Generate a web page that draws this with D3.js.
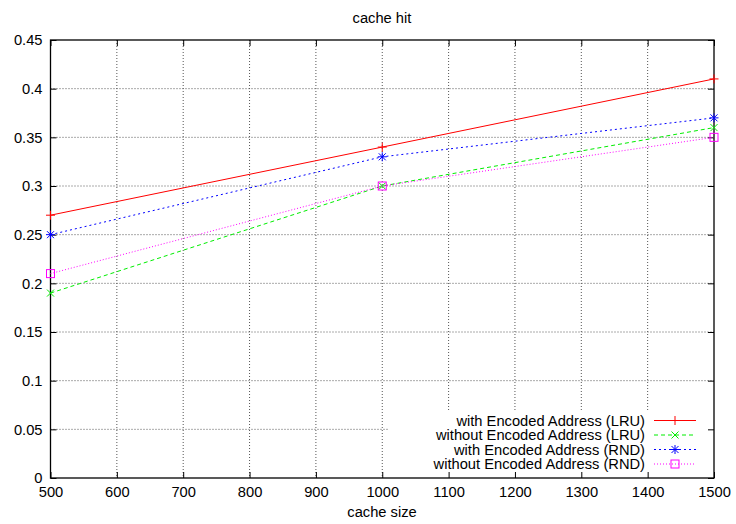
<!DOCTYPE html>
<html>
<head>
<meta charset="utf-8">
<script src="https://cdn.jsdelivr.net/npm/d3@7"></script>
<style>
  body { margin: 0; background: #fff; }
  text { font-family: "Liberation Sans", Arial, sans-serif; }
</style>
</head>
<body>
<div id="chart"></div>
<script>
// chart data
var cacheSizes = [500, 1000, 1500];
var withLRU = [0.27, 0.34, 0.41];
var withoutLRU = [0.19, 0.30, 0.36];
var withRND = [0.25, 0.33, 0.37];
var withoutRND = [0.21, 0.30, 0.35];
var seriesNames = ["with Encoded Address (LRU)", "without Encoded Address (LRU)",
                   "with Encoded Address (RND)", "without Encoded Address (RND)"];
var xTicks = [500, 600, 700, 800, 900, 1000, 1100, 1200, 1300, 1400, 1500];
var yTicks = [0, 0.05, 0.1, 0.15, 0.2, 0.25, 0.3, 0.35, 0.4, 0.45];

var W = 736, H = 524;
var margin = {top: 40, right: 22, bottom: 46, left: 50.5};
var width = W - margin.left - margin.right,
    height = H - margin.top - margin.bottom;
var fs = 14.7;

var svg = d3.select("#chart").append("svg")
    .attr("width", W).attr("height", H);
var g = svg.append("g")
    .attr("transform", "translate(" + margin.left + "," + margin.top + ")");

var x = d3.scaleLinear().domain([500, 1500]).range([0, width]);
var y = d3.scaleLinear().domain([0, 0.45]).range([height, 0]);

// grid
g.selectAll(".gx").data(xTicks.slice(1, -1)).join("line")
    .attr("x1", d => x(d)).attr("x2", d => x(d))
    .attr("y1", 0).attr("y2", height)
    .attr("stroke", "#555").attr("stroke-width", 1).attr("stroke-dasharray", "1,2");
g.selectAll(".gy").data(yTicks.slice(1, -1)).join("line")
    .attr("x1", 0).attr("x2", width)
    .attr("y1", d => y(d)).attr("y2", d => y(d))
    .attr("stroke", "#555").attr("stroke-width", 1).attr("stroke-dasharray", "1,2");

// key background hides grid
g.append("rect")
    .attr("x", x(1010)).attr("y", y(0.068))
    .attr("width", width - x(1010)).attr("height", height - y(0.068))
    .attr("fill", "#fff");

// axes with mirrored inward ticks
var axB = g.append("g").attr("transform", "translate(0," + height + ")")
    .call(d3.axisBottom(x).tickValues(xTicks).tickSize(-6).tickPadding(9).tickFormat(d3.format("d")));
var axT = g.append("g")
    .call(d3.axisTop(x).tickValues(xTicks).tickSize(-6).tickFormat(""));
var axL = g.append("g")
    .call(d3.axisLeft(y).tickValues(yTicks).tickSize(-6).tickPadding(8).tickFormat(d => d3.format("")(+d.toFixed(2))));
var axR = g.append("g").attr("transform", "translate(" + width + ",0)")
    .call(d3.axisRight(y).tickValues(yTicks).tickSize(-6).tickFormat(""));
[axB, axT, axL, axR].forEach(a => {
  a.selectAll("path").remove();
  a.selectAll("line").attr("stroke", "#000");
  a.selectAll("text").attr("font-size", fs).attr("fill", "#000")
    .style("font-family", "'Liberation Sans', Arial, sans-serif");
});

g.append("rect").attr("width", width).attr("height", height)
    .attr("fill", "none").attr("stroke", "#000").attr("stroke-width", 1.3);

var series = [
  {name: seriesNames[0], vals: withLRU, color: "#ff0000", dash: null, marker: "plus"},
  {name: seriesNames[1], vals: withoutLRU, color: "#00ee00", dash: "4,3", marker: "cross"},
  {name: seriesNames[2], vals: withRND, color: "#0000ff", dash: "2,3", marker: "star"},
  {name: seriesNames[3], vals: withoutRND, color: "#ff00ff", dash: "1,2", marker: "square"}
];

function drawMarker(sel, type, color) {
  var s = 4.5;
  if (type === "plus" || type === "star") {
    sel.append("path").attr("d", `M${-s},0H${s}M0,${-s}V${s}`).attr("stroke", color).attr("fill", "none");
  }
  if (type === "cross" || type === "star") {
    var c = 3.5;
    sel.append("path").attr("d", `M${-c},${-c}L${c},${c}M${-c},${c}L${c},${-c}`).attr("stroke", color).attr("fill", "none");
  }
  if (type === "square") {
    sel.append("rect").attr("x", -4).attr("y", -4).attr("width", 8).attr("height", 8)
      .attr("stroke", color).attr("fill", "none");
  }
}

var line = d3.line().x(d => x(d[0])).y(d => y(d[1]));
series.forEach(s => {
  var pts = cacheSizes.map((c, i) => [c, s.vals[i]]);
  g.append("path").datum(pts).attr("d", line)
    .attr("fill", "none").attr("stroke", s.color).attr("stroke-width", 1)
    .attr("stroke-dasharray", s.dash);
  pts.forEach(p => {
    drawMarker(g.append("g").attr("transform", "translate(" + x(p[0]) + "," + y(p[1]) + ")"), s.marker, s.color);
  });
});

// key
var key = svg.append("g");
series.forEach((s, i) => {
  var ky = 420.5 + i * 14.5;
  key.append("text").attr("x", 645).attr("y", ky + 5).attr("text-anchor", "end")
    .attr("font-size", fs).text(s.name);
  key.append("line").attr("x1", 654).attr("x2", 696).attr("y1", ky).attr("y2", ky)
    .attr("stroke", s.color).attr("stroke-dasharray", s.dash);
  drawMarker(key.append("g").attr("transform", "translate(675," + ky + ")"), s.marker, s.color);
});

// titles
svg.append("text").attr("x", 382).attr("y", 23).attr("text-anchor", "middle")
    .attr("font-size", fs).text("cache hit");
svg.append("text").attr("x", 382).attr("y", 517).attr("text-anchor", "middle")
    .attr("font-size", fs).text("cache size");
</script>
</body>
</html>
